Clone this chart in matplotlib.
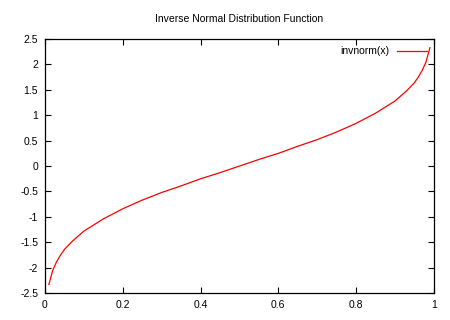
import matplotlib
matplotlib.use("Agg")
import matplotlib.pyplot as plt

plt.rcParams['font.family'] = ['Liberation Sans', 'DejaVu Sans']
plt.rcParams['font.size'] = 7.5

# values
x = [0.01, 0.02, 0.03, 0.04, 0.05, 0.07, 0.1, 0.15, 0.2, 0.25, 0.3, 0.35, 0.4, 0.45, 0.5,
     0.55, 0.6, 0.65, 0.7, 0.75, 0.8, 0.85, 0.9, 0.93, 0.95, 0.96, 0.97, 0.98, 0.99]
y = [-2.33, -2.05, -1.88, -1.75, -1.64, -1.48, -1.28, -1.04, -0.84, -0.67, -0.52, -0.39, -0.25, -0.13, 0.0,
     0.13, 0.25, 0.39, 0.52, 0.67, 0.84, 1.04, 1.28, 1.48, 1.64, 1.75, 1.88, 2.05, 2.33]

xticks = [0, 0.2, 0.4, 0.6, 0.8, 1]
xticklabels = ['0', '0.2', '0.4', '0.6', '0.8', '1']
yticks = [-2.5, -2, -1.5, -1, -0.5, 0, 0.5, 1, 1.5, 2, 2.5]
yticklabels = ['-2.5', '-2', '-1.5', '-1', '-0.5', '0', '0.5', '1', '1.5', '2', '2.5']

fig = plt.figure(figsize=(4.5, 3.2), dpi=100)
ax = fig.add_axes([0.1, 0.084, 0.864, 0.794])

ax.plot(x, y, color='red', linewidth=0.9, label='invnorm(x)')

ax.set_xlim(0, 1)
ax.set_ylim(-2.5, 2.5)
ax.set_xticks(xticks)
ax.set_xticklabels(xticklabels)
ax.set_yticks(yticks)
ax.set_yticklabels(yticklabels)
ax.tick_params(direction='in', top=True, right=True, length=4, width=0.8, pad=5)
for s in ax.spines.values():
    s.set_linewidth(0.9)

ax.set_title('Inverse Normal Distribution Function', fontsize=7.5, pad=12)
ax.legend(loc='upper right', frameon=False, markerfirst=False, handlelength=2.8,
          borderaxespad=0.3, fontsize=7.5)

fig.savefig('out.png', dpi=100)
